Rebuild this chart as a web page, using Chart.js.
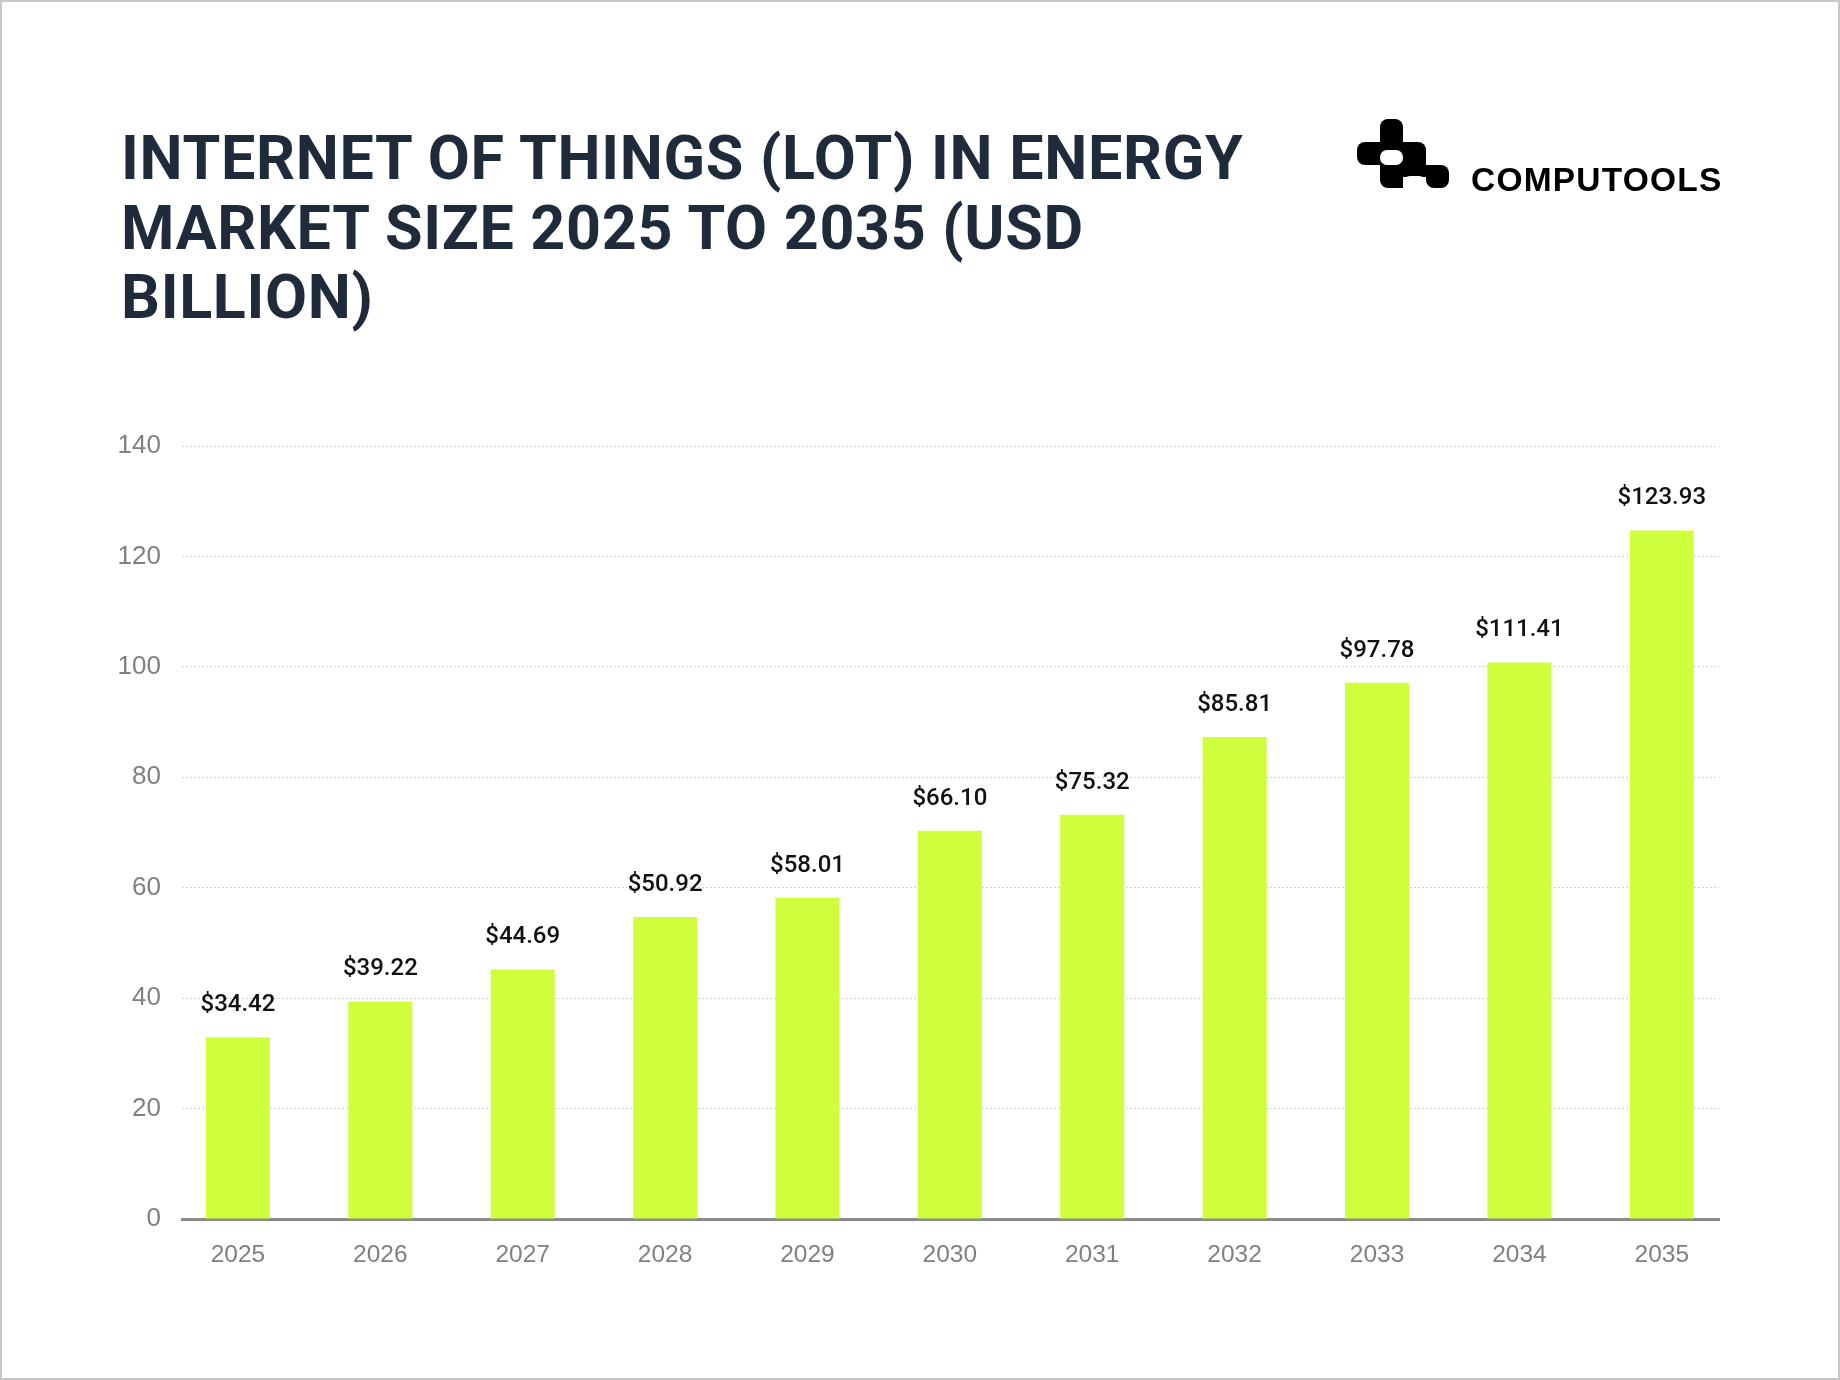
<!DOCTYPE html>
<html>
<head>
<meta charset="utf-8">
<script src="https://cdn.jsdelivr.net/npm/chart.js@4.4.1/dist/chart.umd.min.js"></script>
<style>
    html, body { margin: 0; padding: 0; background: #fff; }
    #page { position: relative; width: 1840px; height: 1380px; overflow: hidden; }
    #chart { position: absolute; left: 0; top: 0; }
    #frame { position: absolute; left: 0; top: 0; width: 1840px; height: 1380px; box-sizing: border-box; border: 2px solid #c6c6c6; pointer-events: none; }
    #title {
        position: absolute; left: 121px; top: 124px; margin: 0;
        font-family: Roboto, 'Liberation Sans', sans-serif; font-weight: 700;
        font-size: 61px; line-height: 69.6px; letter-spacing: 0.7px;
        color: #1f2a3b;
    }
    #logo { position: absolute; left: 1357px; top: 119px; }
    #brand {
        position: absolute; left: 1471px; top: 162.5px;
        font-family: 'Liberation Sans', Arial, sans-serif; font-weight: 700;
        font-size: 33.5px; line-height: 34px; letter-spacing: 1.2px; color: #000;
    }
</style>
</head>
<body>
<div id="page">
    <canvas id="chart" width="1840" height="1380"></canvas>
    <h1 id="title">INTERNET OF THINGS (LOT) IN ENERGY<br>MARKET SIZE 2025 TO 2035 (USD<br>BILLION)</h1>
    <svg id="logo" width="92" height="69" viewBox="0 0 92 69">
        <g fill="#000">
            <rect x="23" y="0" width="23" height="23" rx="8"/>
            <rect x="0" y="23" width="23" height="23" rx="8"/>
            <rect x="46" y="23" width="23" height="23" rx="8"/>
            <rect x="23" y="46" width="23" height="23" rx="8"/>
            <rect x="69" y="46" width="23" height="23" rx="8"/>
            <rect x="23" y="12" width="23" height="11"/>
            <rect x="12" y="23" width="11" height="23"/>
            <rect x="46" y="23" width="11" height="23"/>
            <rect x="46" y="35" width="23" height="11"/>
            <rect x="23" y="46" width="23" height="11"/>
            <rect x="35" y="46" width="11" height="23"/>
            <rect x="69" y="46" width="11" height="11"/>
            <rect x="23" y="23" width="23" height="23"/>
            <rect x="46" y="46" width="23" height="12"/>
        </g>
        <rect x="23" y="31" width="23" height="15" rx="7" fill="#fff"/>
        <rect x="46" y="57" width="23" height="20" rx="7" fill="#fff"/>
    </svg>
    <div id="brand">COMPUTOOLS</div>
    <div id="frame"></div>
</div>
<script>
const years = ['2025', '2026', '2027', '2028', '2029', '2030', '2031', '2032', '2033', '2034', '2035'];
// bar heights as drawn in the picture
const barValues = [32.9, 39.4, 45.2, 54.7, 58.2, 70.3, 73.2, 87.3, 97.1, 100.8, 124.7];
// printed labels above the bars
const valueLabels = ['$34.42', '$39.22', '$44.69', '$50.92', '$58.01', '$66.10', '$75.32', '$85.81', '$97.78', '$111.41', '$123.93'];
const yTicks = [0, 20, 40, 60, 80, 100, 120, 140];

const barLabels = {
    id: 'barLabels',
    afterDatasetsDraw(chart) {
        const ctx = chart.ctx;
        const meta = chart.getDatasetMeta(0);
        ctx.save();
        ctx.font = '500 24px Roboto, "Liberation Sans", sans-serif';
        ctx.fillStyle = '#111';
        ctx.textAlign = 'center';
        ctx.textBaseline = 'middle';
        meta.data.forEach((bar, i) => {
            ctx.fillText(valueLabels[i], bar.x, bar.y - 32);
        });
        ctx.restore();
    }
};

new Chart(document.getElementById('chart'), {
    type: 'bar',
    data: {
        datasets: [{
            data: years.map((y, i) => ({ x: i, y: barValues[i] })),
            backgroundColor: '#cfff3c',
            borderWidth: 0,
            categoryPercentage: 1,
            barPercentage: 0.45
        }]
    },
    options: {
        responsive: false, animation: false,
        layout: { padding: { top: 446, left: 0, right: 121, bottom: 80 } },
        plugins: { legend: { display: false }, tooltip: { enabled: false } },
        scales: {
            x: {
                type: 'linear', min: -0.393, max: 10.402, offset: false,
                afterFit: s => { s.height = 81; },
                afterBuildTicks: s => { s.ticks = years.map((y, i) => ({ value: i })); },
                grid: { display: false, drawTicks: false, offset: false },
                border: { display: true, color: '#8a8a8a', width: 3 },
                ticks: {
                    color: '#808080', padding: 22,
                    font: { family: '"Liberation Sans", Arial, sans-serif', size: 24.5 },
                    callback: v => years[v]
                }
            },
            y: {
                min: 0, max: 140,
                afterFit: s => { s.width = 182; },
                afterBuildTicks: s => { s.ticks = yTicks.map(v => ({ value: v })); },
                grid: { color: '#d2d2d2', lineWidth: 1, drawTicks: false },
                border: { display: false, dash: [2, 2] },
                ticks: { color: '#808080', padding: 21, font: { family: '"Liberation Sans", Arial, sans-serif', size: 26 } }
            }
        }
    },
    plugins: [barLabels]
});
</script>
</body>
</html>
